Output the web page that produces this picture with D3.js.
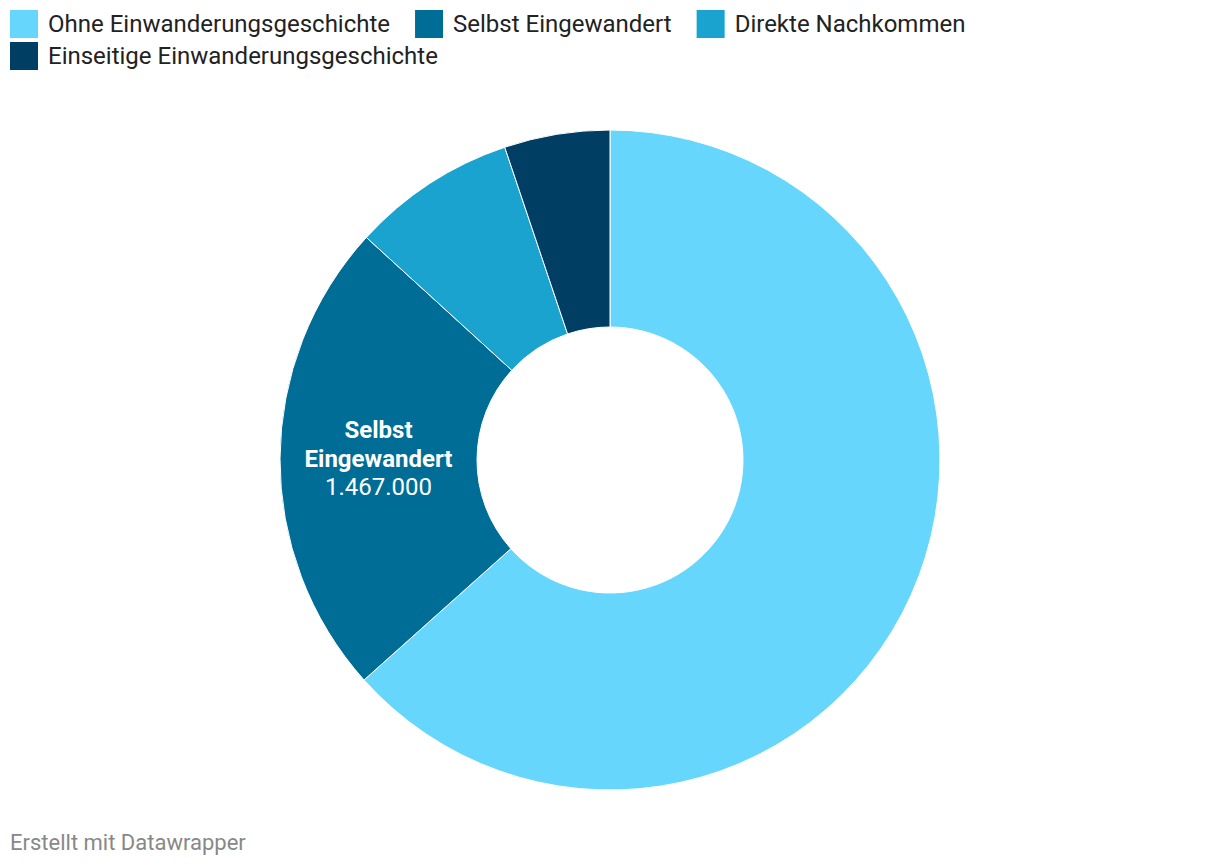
<!DOCTYPE html>
<html>
<head>
<meta charset="utf-8">
<script src="https://cdn.jsdelivr.net/npm/d3@7"></script>
<style>
	body { margin: 0; background: #fff; font-family: Roboto, "Noto Sans", sans-serif; }
</style>
</head>
<body>
<svg id="chart" width="1220" height="866"></svg>
<script>
var categories = ["Ohne Einwanderungsgeschichte", "Selbst Eingewandert", "Direkte Nachkommen", "Einseitige Einwanderungsgeschichte"];
var values = [3975000, 1467000, 505000, 324000];
var colors = ["#67d6fc", "#006d96", "#1aa3cf", "#003e64"];
// only the selected slice carries a label, like the original
var labelled = [false, true, false, false];

var svg = d3.select("#chart");
var color = d3.scaleOrdinal().domain(categories).range(colors);
var format = function(v) {
	return d3.format(",")(v).replace(/,/g, ".");
};

// legend, wraps when a row is full
var legend = svg.append("g");
var lx = 10, ly = 10, maxX = 1000;
categories.forEach(function(name) {
	var item = legend.append("g");
	item.append("rect")
		.attr("width", 28)
		.attr("height", 28)
		.attr("fill", color(name));
	var text = item.append("text")
		.attr("x", 38)
		.attr("y", 22)
		.attr("font-size", 24)
		.attr("fill", "#222")
		.text(name);
	var w = 38 + text.node().getComputedTextLength();
	if (lx + w > maxX) {
		lx = 10;
		ly += 32;
	}
	item.attr("transform", "translate(" + lx + "," + ly + ")");
	lx += w + 25;
});

// the donut
var cx = 610, cy = 460, outer = 330, inner = 133;
var data = categories.map(function(c, i) {
	return { name: c, value: values[i], label: labelled[i] };
});
var pie = d3.pie().sort(null).value(function(d) { return d.value; });
var arc = d3.arc().innerRadius(inner).outerRadius(outer);
var g = svg.append("g").attr("transform", "translate(" + cx + "," + cy + ")");

var arcs = pie(data);
g.selectAll("path")
	.data(arcs)
	.enter().append("path")
	.attr("d", arc)
	.attr("fill", function(d) { return color(d.data.name); })
	.attr("stroke", "#fff")
	.attr("stroke-width", 1);

var labelArc = d3.arc().innerRadius((inner + outer) / 2).outerRadius((inner + outer) / 2);
arcs.filter(function(d) { return d.data.label; }).forEach(function(d) {
	var p = labelArc.centroid(d);
	var t = g.append("text")
		.attr("text-anchor", "middle")
		.attr("fill", "#fff")
		.attr("font-size", 24)
		.attr("transform", "translate(" + p[0] + "," + (p[1] - 20.5) + ")");
	var words = d.data.name.split(" ");
	words.forEach(function(w, i) {
		t.append("tspan")
			.attr("x", 0)
			.attr("dy", i == 0 ? 0 : 28.5)
			.attr("font-weight", "bold")
			.text(w);
	});
	t.append("tspan")
		.attr("x", 0)
		.attr("dy", 28.5)
		.text(format(d.data.value));
});

// footer
svg.append("text")
	.attr("x", 10)
	.attr("y", 850)
	.attr("font-size", 22)
	.attr("fill", "#888")
	.text("Erstellt mit Datawrapper");
</script>
</body>
</html>
